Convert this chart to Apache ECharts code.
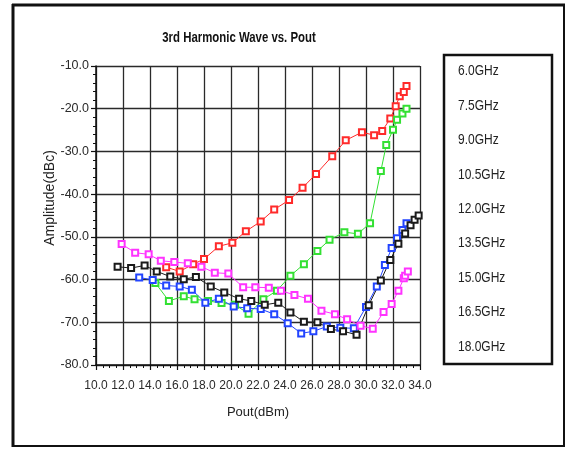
<!DOCTYPE html>
<html><head><meta charset="utf-8">
<script src="https://cdn.jsdelivr.net/npm/echarts@6/dist/echarts.min.js"></script>
<style>html,body{margin:0;padding:0;background:#fff}#c{width:569px;height:449px}</style>
</head><body><div id="c"></div>
<script>
const REG = "'Liberation Sans',Arial,sans-serif";

const chartTitle = '3rd Harmonic Wave vs. Pout';
const xAxisTitle = 'Pout(dBm)';
const yAxisTitle = 'Amplitude(dBc)';
const xRange = [10, 34, 2];
const yRange = [-80, -10, 10];

const seriesNames = ['6.0GHz','7.5GHz','9.0GHz','10.5GHz','12.0GHz','13.5GHz','15.0GHz','16.5GHz','18.0GHz'];
const seriesColors = ['#ff2a2a','#33e033','#2244ff','#1a1a1a','#ff33ff','#33ffff','#999933','#339966','#9933ff'];

const s6_0 = [[15.2,-57.1],[16.2,-58.1],[17.2,-56.4],[18.0,-55.2],[19.1,-52.2],[20.1,-51.4],[21.1,-48.7],[22.2,-46.4],[23.2,-43.6],[24.3,-41.4],[25.3,-38.5],[26.3,-35.3],[27.5,-31.1],[28.5,-27.4],[29.7,-25.5],[30.6,-26.2],[31.2,-25.2],[31.8,-22.3],[32.2,-19.4],[32.5,-17.1],[32.8,-16.1],[33.0,-14.7]];
const s7_5 = [[14.4,-60.8],[15.4,-65.0],[16.5,-63.9],[17.3,-64.6],[18.3,-65.0],[19.3,-65.5],[20.3,-65.9],[21.3,-68.0],[22.4,-64.6],[23.4,-62.6],[24.4,-59.1],[25.4,-56.4],[26.4,-53.3],[27.3,-50.7],[28.4,-48.9],[29.4,-49.3],[30.3,-46.8],[31.1,-34.6],[31.5,-28.5],[32.0,-24.9],[32.3,-22.6],[32.7,-21.1],[33.0,-20.0]];
const s9_0 = [[13.2,-59.5],[14.2,-60.1],[15.2,-61.4],[16.2,-61.6],[17.1,-62.4],[18.1,-65.4],[19.1,-64.5],[20.2,-66.3],[21.2,-66.7],[22.2,-66.9],[23.2,-68.1],[24.2,-70.2],[25.2,-72.6],[26.1,-72.1],[27.1,-71.0],[28.1,-71.3],[29.1,-71.4],[30.0,-66.4],[30.8,-61.6],[31.4,-56.6],[31.9,-52.6],[32.3,-50.3],[32.7,-48.4],[33.0,-46.8]];
const s10_5 = [[11.6,-57.0],[12.6,-57.3],[13.6,-56.7],[14.5,-58.1],[15.5,-59.3],[16.5,-59.9],[17.4,-59.4],[18.5,-61.6],[19.5,-63.0],[20.6,-64.5],[21.5,-65.0],[22.5,-65.9],[23.5,-65.4],[24.4,-67.7],[25.4,-69.9],[26.4,-70.0],[27.4,-71.6],[28.3,-72.1],[29.3,-72.9],[30.2,-66.0],[31.1,-60.2],[31.8,-55.4],[32.4,-51.6],[32.9,-49.2],[33.3,-47.3],[33.6,-46.0],[33.9,-45.0]];
const s12_0 = [[11.9,-51.7],[12.9,-53.7],[13.9,-54.1],[14.8,-55.6],[15.8,-55.9],[16.8,-56.2],[17.8,-57.0],[18.8,-58.4],[19.8,-58.6],[20.9,-61.8],[21.8,-61.8],[22.8,-61.9],[23.7,-62.6],[24.7,-63.6],[25.7,-64.5],[26.7,-67.3],[27.7,-68.1],[28.6,-69.3],[29.6,-70.8],[30.5,-71.5],[31.3,-67.6],[31.9,-65.7],[32.4,-62.6],[32.8,-59.7],[32.9,-59.1],[33.1,-58.1]];
const s13_5 = [];
const s15_0 = [];
const s16_5 = [];
const s18_0 = [];
const seriesData = [s6_0, s7_5, s9_0, s10_5, s12_0, s13_5, s15_0, s16_5, s18_0];

const chart = echarts.init(document.getElementById('c'));

const graphics = [];
// outer frame
graphics.push({type:'rect', shape:{x:13, y:5, width:551, height:441}, style:{fill:'none', stroke:'#111', lineWidth:2}, silent:true});
graphics.push({type:'line', shape:{x1:13, y1:4, x2:13, y2:447}, style:{stroke:'#111', lineWidth:3}, silent:true});
graphics.push({type:'line', shape:{x1:12, y1:5, x2:565, y2:5}, style:{stroke:'#111', lineWidth:3}, silent:true});
// chart title (narrowed to match the condensed face of the original)
graphics.push({type:'text', x:239, y:38, scaleX:0.76, style:{text:chartTitle, fill:'#111', font:'bold 15px '+REG, textAlign:'center', textVerticalAlign:'middle'}});
// y axis title
graphics.push({type:'text', x:50, y:198, rotation:Math.PI/2, style:{text:yAxisTitle, fill:'#222', font:'14px '+REG, textAlign:'center', textVerticalAlign:'middle'}});
// legend box
graphics.push({type:'rect', shape:{x:444, y:55, width:108, height:309}, style:{fill:'#fff', stroke:'#111', lineWidth:2.5}, z:10});
seriesNames.forEach((name, i) => {
  const y0 = 57.7 + i * 34.4;
  const c = seriesColors[i];
  graphics.push({type:'text', x:458, y:y0 + 13.5, z:11, scaleX:0.8, style:{text:name, fill:'#222', font:'15px '+REG, textVerticalAlign:'middle'}});
  graphics.push({type:'group', x:513, y:y0, z:11, children:[
    {type:'rect', shape:{x:0, y:0, width:25, height:27}, style:{fill:'#fff', stroke:'#111', lineWidth:1.5}},
    {type:'polyline', shape:{points:[[4,21],[12.5,5],[21,21]]}, style:{stroke:c, lineWidth:1, fill:'none'}},
    {type:'rect', shape:{x:2.5, y:19.5, width:3.5, height:3.5}, style:{stroke:c, lineWidth:1, fill:'none'}},
    {type:'rect', shape:{x:10.8, y:3.3, width:3.5, height:3.5}, style:{stroke:c, lineWidth:1, fill:'none'}},
    {type:'rect', shape:{x:19.2, y:19.5, width:3.5, height:3.5}, style:{stroke:c, lineWidth:1, fill:'none'}}
  ]});
});

const option = {
  animation: false,
  backgroundColor: '#fff',
  grid: {left: 96, top: 66, width: 324, height: 299, containLabel: false},
  xAxis: {
    type: 'value', min: xRange[0], max: xRange[1], interval: xRange[2],
    name: xAxisTitle, nameLocation: 'middle', nameGap: 41,
    nameTextStyle: {fontSize: 13, color: '#222', fontFamily: REG},
    axisLine: {show: true, onZero: false, lineStyle: {color: '#111', width: 1.5}},
    axisTick: {show: true, length: 5, lineStyle: {color: '#111', width: 1.2}},
    minorTick: {show: true, splitNumber: 4, length: 3, lineStyle: {color: '#111', width: 1}},
    axisLabel: {margin: 15, fontSize: 12, color: '#2a2a2a', fontFamily: REG, hideOverlap: false,
      showMinLabel: true, showMaxLabel: true, formatter: v => v.toFixed(1)},
    splitLine: {show: true, lineStyle: {color: '#2a2a2a', width: 1.3}}
  },
  yAxis: {
    type: 'value', min: yRange[0], max: yRange[1], interval: yRange[2],
    axisLine: {show: true, onZero: false, lineStyle: {color: '#111', width: 1.5}},
    axisTick: {show: true, length: 5, lineStyle: {color: '#111', width: 1.2}},
    minorTick: {show: true, splitNumber: 5, length: 3, lineStyle: {color: '#111', width: 1}},
    axisLabel: {margin: 7, fontSize: 12.5, color: '#2a2a2a', fontFamily: REG, hideOverlap: false,
      showMinLabel: true, showMaxLabel: true, formatter: v => v.toFixed(1)},
    splitLine: {show: true, lineStyle: {color: '#2a2a2a', width: 1.3}}
  },
  series: seriesNames.map((name, i) => ({
    name: name, type: 'line', data: seriesData[i],
    symbol: 'emptyRect', symbolSize: 6,
    lineStyle: {color: seriesColors[i], width: 1},
    itemStyle: {color: seriesColors[i], borderColor: seriesColors[i], borderWidth: 1},
    z: 5
  })),
  graphic: graphics
};
chart.setOption(option);
</script>
</body></html>
